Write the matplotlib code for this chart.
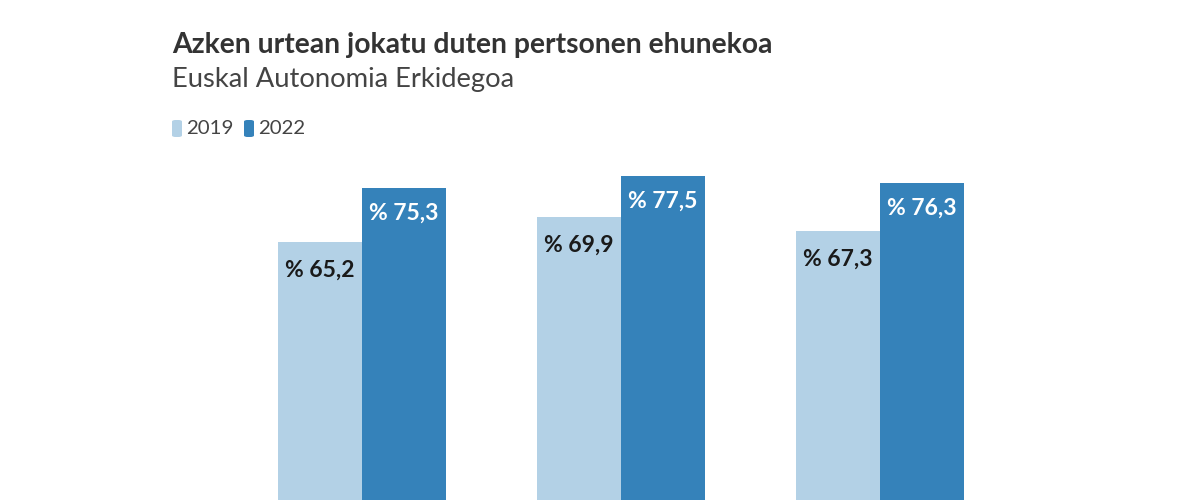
import matplotlib.pyplot as plt
import numpy as np
from matplotlib.patches import FancyBboxPatch

plt.rcParams['font.family'] = ['Lato', 'DejaVu Sans']

# datuak
groups = ["A", "B", "C"]
years = ["2019", "2022"]
values_2019 = [65.2, 69.9, 67.3]
values_2022 = [75.3, 77.5, 76.3]
colors = ["#b3d1e6", "#3582ba"]

W, H = 1200, 500
fig = plt.figure(figsize=(12, 5), dpi=100)

# ardatza irudi osoa hartzen du, barrak behean moztuta
ax = fig.add_axes([0, 0, 1, 1])
px_per_unit = 5.35
zero_px = 591
ax.set_ylim((zero_px - H) / px_per_unit, zero_px / px_per_unit)
center0, step = 362, 259
ax.set_xlim(-center0 / step, (W - center0) / step)
ax.axis("off")

x = np.arange(len(groups))
bw = 84 / step
b1 = ax.bar(x - bw / 2, values_2019, bw, color=colors[0])
b2 = ax.bar(x + bw / 2, values_2022, bw, color=colors[1])

for rect, v in zip(b1, values_2019):
    ax.annotate("% " + f"{v:.1f}".replace(".", ","),
                (rect.get_x() + rect.get_width() / 2, v),
                xytext=(0, -20.5), textcoords="offset points",
                ha="center", va="center", fontsize=16.5, fontweight="bold",
                color="#1a1a1a")
for rect, v in zip(b2, values_2022):
    ax.annotate("% " + f"{v:.1f}".replace(".", ","),
                (rect.get_x() + rect.get_width() / 2, v),
                xytext=(0, -18), textcoords="offset points",
                ha="center", va="center", fontsize=16.5, fontweight="bold",
                color="white")

# izenburuak
fig.text(172 / W, 1 - 45 / H, "Azken urtean jokatu duten pertsonen ehunekoa",
         fontsize=20.3, fontweight="bold", color="#333333", va="center", ha="left")
fig.text(172 / W, 1 - 79 / H, "Euskal Autonomia Erkidegoa",
         fontsize=19.7, color="#444444", va="center", ha="left")

# legenda
for xs, xt, c, lab in [(172, 186, colors[0], years[0]), (244, 258, colors[1], years[1])]:
    fig.patches.append(FancyBboxPatch((xs / W, 1 - 137 / H), 10 / W, 17 / H,
                                      boxstyle="round,pad=0,rounding_size=0.003",
                                      transform=fig.transFigure, color=c, ec="none"))
    fig.text(xt / W, 1 - 128 / H, lab, fontsize=14.7, color="#444444",
             va="center", ha="left")

fig.savefig("out.png", dpi=100)
